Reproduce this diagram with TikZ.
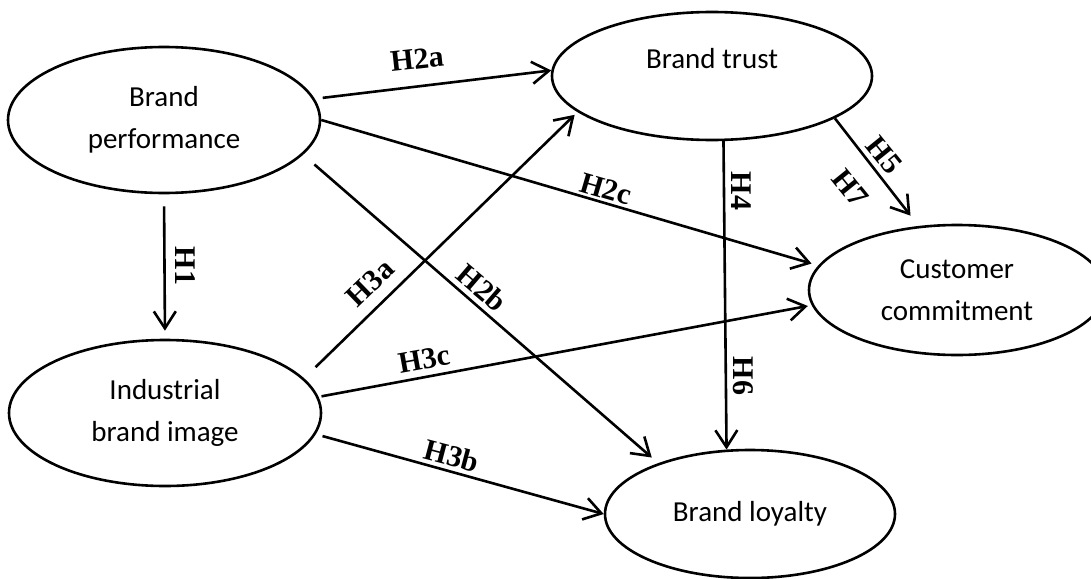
\documentclass[tikz,border=0pt]{standalone}
\usepackage{fontspec}
\setmainfont{Carlito}
\newfontfamily\hypfont{Liberation Serif}
\usepackage{tikz}
\usetikzlibrary{shapes.geometric, arrows.meta}
\tikzstyle{construct} = [ellipse, draw=black, line width=1.3pt, align=center, inner sep=0pt, font=\fontsize{14.5}{21}\selectfont]
\tikzstyle{caption}   = [font=\fontsize{14.5}{21}\selectfont, inner sep=0pt]
\tikzstyle{hyp}       = [font=\hypfont\bfseries\fontsize{15}{15}\selectfont, inner sep=0pt]
\tikzstyle{arrow}     = [line width=1.3pt, -{Straight Barb[length=8.5pt, width=11pt]}]

\begin{document}
\begin{tikzpicture}[x=0.5pt, y=-0.5pt]
    \useasboundingbox (0,0) rectangle (1091,578);

    \node (perf)   [construct, minimum width=156pt, minimum height=73pt] at (164,120) {Brand\\performance};
    \node (image)  [construct, minimum width=156pt, minimum height=73pt] at (165,413) {Industrial\\brand image};
    \node (trust)  [construct, minimum width=160pt, minimum height=64pt] at (712,76) {};
    \node (trusttext) [caption] at (712,59) {Brand trust};
    \node (commit) [construct, minimum width=148pt, minimum height=65pt] at (957,290) {Customer\\commitment};
    \node (loyal)  [construct, minimum width=145pt, minimum height=64pt] at (750,514) {Brand loyalty};

    \draw [arrow, shorten <=6pt, shorten >=4pt]   (perf.south)  -- (image.north);
    \draw [arrow, shorten <=4pt]                  (perf.8.9)    -- (trust.178.2);
    \draw [arrow, shorten >=3.5pt]                (perf.0)      -- (commit.170.5);
    \draw [arrow, shorten <=7.5pt, shorten >=4.3pt] (perf.-14.5) -- (loyal.151.9);
    \draw [arrow, shorten <=8pt, shorten >=2pt]   (image.14.9)  -- (trust.-165.8);
    \draw [arrow, shorten <=1.5pt, shorten >=2pt] (image.6.5)   -- (commit.186.9);
    \draw [arrow, shorten <=3.5pt]                (image.-8.9)  -- (loyal.180);
    \draw [arrow]                                 (trust.-80.2) -- (loyal.110.8);
    \draw [arrow, shorten >=6.5pt]                (trust.-19.6) -- (commit.121);

    \node (hone)    [hyp, rotate=-90]   at (185,266) {H1};
    \node (htwoa)   [hyp, rotate=6.2]   at (417,59)  {H2a};
    \node (htwob)   [hyp, rotate=-40.7] at (482,288) {H2b};
    \node (htwoc)   [hyp, rotate=-16.3] at (606,189) {H2c};
    \node (hthreea) [hyp, rotate=44]    at (370,283) {H3a};
    \node (hthreeb) [hyp, rotate=-14.8] at (452,456) {H3b};
    \node (hthreec) [hyp, rotate=10.3]  at (424,359) {H3c};
    \node (hfour)   [hyp, rotate=-90]   at (741,191) {H4};
    \node (hfive)   [hyp, rotate=-51]   at (884,155) {H5};
    \node (hsix)    [hyp, rotate=-90]   at (743,376) {H6};
    \node (hseven)  [hyp, rotate=-51]   at (850,188) {H7};
\end{tikzpicture}
\end{document}
